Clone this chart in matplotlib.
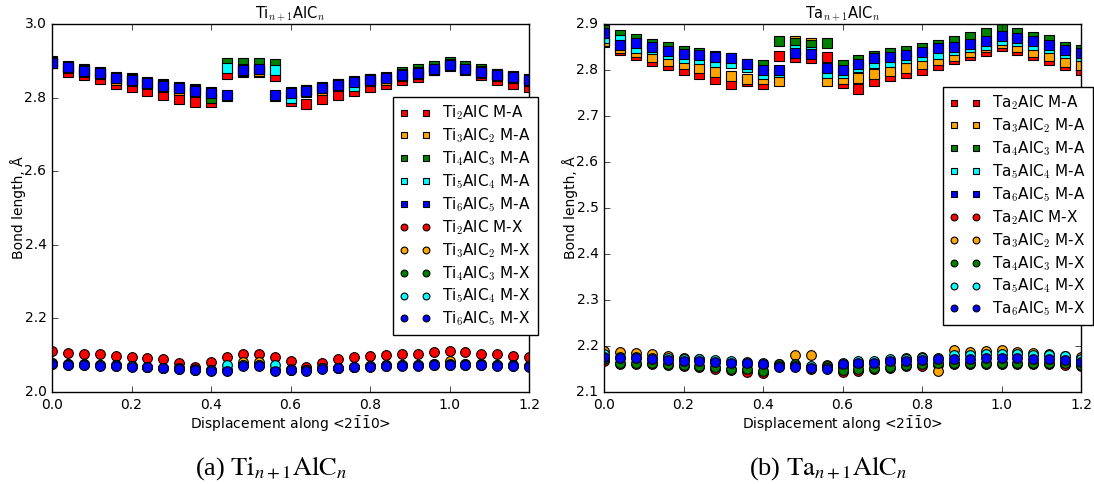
import matplotlib
matplotlib.use("Agg")
import matplotlib.pyplot as plt
import numpy as np

plt.style.use("classic")
plt.rcParams["figure.facecolor"] = "white"
plt.rcParams["savefig.facecolor"] = "white"
plt.rcParams["font.family"] = ["DejaVu Sans"]
plt.rcParams["mathtext.fontset"] = "cm"

# ---------------- data ----------------
displacement = [0.00, 0.04, 0.08, 0.12, 0.16, 0.20, 0.24, 0.28, 0.32, 0.36, 0.40,
                0.44, 0.48, 0.52, 0.56, 0.60, 0.64, 0.68, 0.72, 0.76, 0.80,
                0.84, 0.88, 0.92, 0.96, 1.00, 1.04, 1.08, 1.12, 1.16, 1.20]

ti_labels = ["Ti$_2$AlC", "Ti$_3$AlC$_2$", "Ti$_4$AlC$_3$", "Ti$_5$AlC$_4$", "Ti$_6$AlC$_5$"]
ta_labels = ["Ta$_2$AlC", "Ta$_3$AlC$_2$", "Ta$_4$AlC$_3$", "Ta$_5$AlC$_4$", "Ta$_6$AlC$_5$"]
colors = ["#ff0000", "#ffa500", "#008000", "#00ffff", "#0000ff"]

# Ti, M-A bond lengths
ti2_ma = [2.893, 2.870, 2.861, 2.850, 2.837, 2.830, 2.818, 2.807, 2.796, 2.787, 2.787,
          2.863, 2.870, 2.870, 2.859, 2.791, 2.783, 2.796, 2.807, 2.818, 2.828,
          2.837, 2.848, 2.857, 2.875, 2.890, 2.877, 2.861, 2.848, 2.837, 2.830]
ti3_ma = [2.900, 2.880, 2.870, 2.863, 2.849, 2.845, 2.836, 2.829, 2.822, 2.816, 2.810,
          2.804, 2.872, 2.872, 2.804, 2.809, 2.816, 2.822, 2.831, 2.840, 2.845,
          2.849, 2.858, 2.865, 2.874, 2.886, 2.874, 2.867, 2.858, 2.852, 2.845]
ti4_ma = [2.896, 2.886, 2.877, 2.870, 2.857, 2.852, 2.843, 2.836, 2.829, 2.823, 2.800,
          2.895, 2.895, 2.895, 2.891, 2.815, 2.822, 2.828, 2.837, 2.846, 2.851,
          2.856, 2.870, 2.877, 2.886, 2.896, 2.886, 2.879, 2.865, 2.858, 2.851]
ti5_ma = [2.895, 2.884, 2.875, 2.868, 2.854, 2.850, 2.841, 2.834, 2.827, 2.821, 2.815,
          2.881, 2.877, 2.879, 2.875, 2.800, 2.821, 2.827, 2.836, 2.832, 2.850,
          2.854, 2.863, 2.870, 2.879, 2.891, 2.879, 2.872, 2.863, 2.857, 2.850]
ti6_ma = [2.893, 2.882, 2.873, 2.866, 2.852, 2.848, 2.839, 2.832, 2.825, 2.819, 2.813,
          2.807, 2.875, 2.877, 2.807, 2.812, 2.819, 2.825, 2.834, 2.843, 2.848,
          2.852, 2.861, 2.868, 2.877, 2.889, 2.877, 2.870, 2.861, 2.855, 2.848]

# Ti, M-X bond lengths
ti2_mx = [2.112, 2.107, 2.102, 2.102, 2.099, 2.096, 2.093, 2.089, 2.080, 2.067, 2.082,
          2.096, 2.102, 2.103, 2.094, 2.085, 2.067, 2.078, 2.089, 2.094, 2.098,
          2.101, 2.103, 2.103, 2.108, 2.111, 2.108, 2.102, 2.102, 2.098, 2.096]
ti3_mx = [2.078, 2.075, 2.075, 2.074, 2.073, 2.071, 2.069, 2.066, 2.064, 2.062, 2.060,
          2.060, 2.081, 2.081, 2.059, 2.062, 2.060, 2.065, 2.066, 2.069, 2.071,
          2.073, 2.074, 2.074, 2.075, 2.084, 2.075, 2.075, 2.074, 2.073, 2.071]
ti4_mx = [2.078, 2.075, 2.075, 2.074, 2.073, 2.071, 2.069, 2.066, 2.064, 2.061, 2.060,
          2.060, 2.074, 2.074, 2.059, 2.061, 2.060, 2.065, 2.066, 2.069, 2.071,
          2.073, 2.074, 2.074, 2.075, 2.075, 2.075, 2.075, 2.074, 2.073, 2.071]
ti5_mx = [2.077, 2.074, 2.074, 2.073, 2.072, 2.070, 2.068, 2.065, 2.063, 2.061, 2.059,
          2.073, 2.073, 2.073, 2.073, 2.061, 2.059, 2.064, 2.065, 2.068, 2.070,
          2.072, 2.073, 2.073, 2.074, 2.074, 2.074, 2.074, 2.073, 2.072, 2.070]
ti6_mx = [2.076, 2.073, 2.073, 2.072, 2.071, 2.069, 2.067, 2.064, 2.062, 2.060, 2.058,
          2.058, 2.072, 2.072, 2.057, 2.060, 2.058, 2.063, 2.064, 2.067, 2.069,
          2.071, 2.072, 2.072, 2.073, 2.073, 2.073, 2.073, 2.072, 2.071, 2.069]

# Ta, M-A bond lengths
ta2_ma = [2.860, 2.843, 2.833, 2.820, 2.811, 2.801, 2.791, 2.780, 2.770, 2.775, 2.769,
          2.831, 2.828, 2.825, 2.828, 2.772, 2.759, 2.776, 2.786, 2.794, 2.801,
          2.811, 2.823, 2.833, 2.842, 2.852, 2.843, 2.833, 2.822, 2.811, 2.801]
ta3_ma = [2.862, 2.847, 2.840, 2.829, 2.820, 2.812, 2.804, 2.795, 2.788, 2.780, 2.780,
          2.776, 2.862, 2.858, 2.775, 2.780, 2.783, 2.791, 2.798, 2.805, 2.812,
          2.822, 2.830, 2.840, 2.849, 2.859, 2.849, 2.840, 2.830, 2.818, 2.811]
ta4_ma = [2.888, 2.876, 2.867, 2.857, 2.849, 2.842, 2.836, 2.830, 2.825, 2.813, 2.811,
          2.862, 2.858, 2.854, 2.858, 2.811, 2.822, 2.830, 2.836, 2.842, 2.847,
          2.854, 2.862, 2.871, 2.880, 2.889, 2.881, 2.872, 2.865, 2.851, 2.843]
ta5_ma = [2.870, 2.865, 2.848, 2.845, 2.835, 2.826, 2.823, 2.818, 2.815, 2.806, 2.792,
          2.795, 2.843, 2.840, 2.793, 2.793, 2.806, 2.815, 2.818, 2.825, 2.830,
          2.835, 2.843, 2.850, 2.855, 2.865, 2.862, 2.855, 2.848, 2.836, 2.830]
ta6_ma = [2.880, 2.854, 2.859, 2.851, 2.842, 2.834, 2.833, 2.828, 2.825, 2.814, 2.800,
          2.800, 2.836, 2.834, 2.804, 2.799, 2.812, 2.825, 2.828, 2.833, 2.840,
          2.847, 2.851, 2.857, 2.862, 2.874, 2.869, 2.862, 2.854, 2.843, 2.838]

# Ta, M-X bond lengths
ta2_mx = [2.168, 2.161, 2.161, 2.161, 2.158, 2.156, 2.154, 2.151, 2.148, 2.144, 2.142,
          2.157, 2.157, 2.151, 2.154, 2.143, 2.146, 2.149, 2.152, 2.156, 2.157,
          2.159, 2.161, 2.161, 2.161, 2.161, 2.161, 2.161, 2.161, 2.159, 2.156]
ta3_mx = [2.190, 2.188, 2.184, 2.183, 2.179, 2.175, 2.171, 2.166, 2.162, 2.161, 2.159,
          2.160, 2.180, 2.180, 2.159, 2.155, 2.159, 2.162, 2.166, 2.173, 2.177,
          2.146, 2.191, 2.186, 2.190, 2.191, 2.188, 2.184, 2.183, 2.178, 2.177]
ta4_mx = [2.171, 2.164, 2.164, 2.164, 2.161, 2.159, 2.157, 2.154, 2.151, 2.149, 2.146,
          2.160, 2.160, 2.154, 2.157, 2.148, 2.151, 2.153, 2.155, 2.159, 2.160,
          2.162, 2.164, 2.164, 2.164, 2.164, 2.164, 2.164, 2.164, 2.162, 2.159]
ta5_mx = [2.182, 2.177, 2.177, 2.175, 2.174, 2.172, 2.171, 2.169, 2.167, 2.165, 2.163,
          2.157, 2.157, 2.156, 2.153, 2.163, 2.167, 2.168, 2.171, 2.172, 2.174,
          2.175, 2.180, 2.181, 2.182, 2.183, 2.182, 2.181, 2.180, 2.178, 2.171]
ta6_mx = [2.177, 2.173, 2.173, 2.171, 2.170, 2.168, 2.168, 2.166, 2.164, 2.162, 2.160,
          2.154, 2.154, 2.153, 2.150, 2.160, 2.164, 2.164, 2.167, 2.168, 2.170,
          2.171, 2.171, 2.171, 2.173, 2.173, 2.173, 2.171, 2.171, 2.170, 2.166]

ti_ma = [ti2_ma, ti3_ma, ti4_ma, ti5_ma, ti6_ma]
ti_mx = [ti2_mx, ti3_mx, ti4_mx, ti5_mx, ti6_mx]
ta_ma = [ta2_ma, ta3_ma, ta4_ma, ta5_ma, ta6_ma]
ta_mx = [ta2_mx, ta3_mx, ta4_mx, ta5_mx, ta6_mx]

# ---------------- figure ----------------
W, H = 1094, 484
fig = plt.figure(figsize=(W / 100, H / 100), dpi=100)

def px_axes(x0, x1, ytop, ybot):
    return fig.add_axes([x0 / W, 1 - ybot / H, (x1 - x0) / W, (ybot - ytop) / H])

ax1 = px_axes(52, 529, 24, 392)
ax2 = px_axes(604, 1081, 24, 392)

MS = 7.0

def draw(ax, labels, ma, mx, title, ylim, yticks, leg_anchor):
    for lab, col, vals in zip(labels, colors, ma):
        ax.plot(displacement, vals, linestyle="none", marker="s", ms=MS,
                mfc=col, mec="black", mew=0.8, label=lab + " M-A")
    for lab, col, vals in zip(labels, colors, mx):
        ax.plot(displacement, vals, linestyle="none", marker="o", ms=MS,
                mfc=col, mec="black", mew=0.8, label=lab + " M-X")
    ax.set_xlim(0, 1.2)
    ax.set_ylim(*ylim)
    ax.set_xticks([0.0, 0.2, 0.4, 0.6, 0.8, 1.0, 1.2])
    ax.set_yticks(yticks)
    ax.tick_params(labelsize=10, direction="in", top=True, right=True)
    ax.set_xlabel(r"Displacement along <2$\bar{1}\bar{1}$0>", fontsize=10,
                  math_fontfamily="dejavusans", labelpad=2)
    ax.set_ylabel("Bond length, Å", fontsize=10, labelpad=-1)
    ax.set_title(title, fontsize=10.5, pad=4)
    leg = ax.legend(loc="upper right", bbox_to_anchor=leg_anchor,
                    bbox_transform=fig.transFigure, numpoints=2, fontsize=11,
                    markerscale=0.7, labelspacing=0.28, handlelength=2.0,
                    handletextpad=0.8, borderpad=0.45, fancybox=False,
                    framealpha=1.0, borderaxespad=0)
    leg.get_frame().set_edgecolor("black")
    leg.get_frame().set_linewidth(1.0)

draw(ax1, ti_labels, ti_ma, ti_mx, r"Ti$_{n+1}$AlC$_n$", (2.0, 3.0),
     [2.0, 2.2, 2.4, 2.6, 2.8, 3.0], (538 / W, 1 - 97 / H))
draw(ax2, ta_labels, ta_ma, ta_mx, r"Ta$_{n+1}$AlC$_n$", (2.1, 2.9),
     [2.1, 2.2, 2.3, 2.4, 2.5, 2.6, 2.7, 2.8, 2.9], (1093 / W, 1 - 87 / H))

# sub-captions
fig.text(271 / W, 1 - 468 / H, r"(a) $\mathrm{Ti}_{n+1}\mathrm{AlC}_n$",
         ha="center", va="center", fontsize=19, family="Liberation Serif",
         math_fontfamily="stix")
fig.text(828 / W, 1 - 468 / H, r"(b) $\mathrm{Ta}_{n+1}\mathrm{AlC}_n$",
         ha="center", va="center", fontsize=19, family="Liberation Serif",
         math_fontfamily="stix")

fig.savefig("out.png", dpi=100)
